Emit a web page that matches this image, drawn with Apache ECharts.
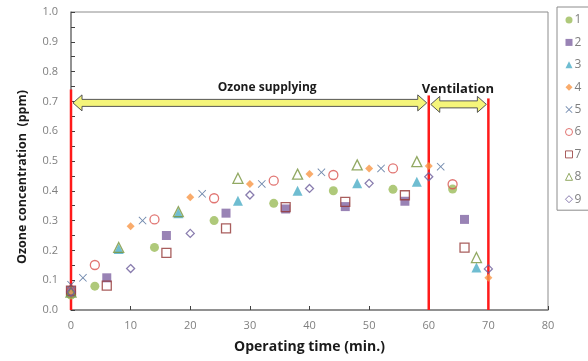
<!DOCTYPE html>
<html>
<head>
<meta charset="utf-8">
<script src="https://cdn.jsdelivr.net/npm/echarts@6/dist/echarts.min.js"></script>
<style>
  html, body { margin: 0; padding: 0; background: #fff; }
  #chart { width: 588px; height: 361px; }
</style>
</head>
<body>
<div id="chart"></div>
<script>
// measured series: [time (min), ozone (ppm)]
const run1 = [[0, 0.05], [4, 0.08], [14, 0.21], [24, 0.30], [34, 0.358], [44, 0.40], [54, 0.405], [64, 0.406]];
const run2 = [[0, 0.065], [6, 0.108], [16, 0.25], [26, 0.325], [36, 0.339], [46, 0.347], [56, 0.365], [66, 0.304]];
const run3 = [[0, 0.06], [8, 0.205], [18, 0.325], [28, 0.367], [38, 0.40], [48, 0.425], [58, 0.43], [68, 0.143]];
const run4 = [[0, 0.06], [10, 0.281], [20, 0.378], [30, 0.423], [40, 0.456], [50, 0.475], [60, 0.483], [70, 0.108]];
const run5 = [[0, 0.085], [2, 0.108], [12, 0.30], [22, 0.39], [32, 0.423], [42, 0.462], [52, 0.475], [62, 0.481]];
const run6 = [[0, 0.06], [4, 0.151], [14, 0.304], [24, 0.375], [34, 0.434], [44, 0.453], [54, 0.475], [64, 0.422]];
const run7 = [[0, 0.065], [6, 0.082], [16, 0.192], [26, 0.274], [36, 0.345], [46, 0.363], [56, 0.385], [66, 0.209]];
const run8 = [[0, 0.06], [8, 0.21], [18, 0.33], [28, 0.442], [38, 0.456], [48, 0.487], [58, 0.498], [68, 0.176]];
const run9 = [[0, 0.06], [10, 0.139], [20, 0.257], [30, 0.386], [40, 0.408], [50, 0.425], [60, 0.447], [70, 0.138]];
const runNames = ['1', '2', '3', '4', '5', '6', '7', '8', '9'];

// phase annotations
const phaseNames = ['Ozone supplying', 'Ventilation'];
const phaseStart = [0, 60];
const phaseEnd = [60, 70];
const phaseArrowY = [0.695, 0.69];
const phaseLabelPos = [[32.9, 0.748], [64.9, 0.742]];
const phaseLineX = [0, 60, 70];
const phaseLineTop = [0.74, 0.72, 0.71];

const xTicks = { min: 0, max: 80, step: 10 };
const yTicks = { min: 0, max: 1, step: 0.1 };

const crossPath = 'path://M0,0.8 L0.8,0 L5,4.2 L9.2,0 L10,0.8 L5.8,5 L10,9.2 L9.2,10 L5,5.8 L0.8,10 L0,9.2 L4.2,5 Z';

const filled = (c) => ({ color: c, borderWidth: 0 });
const open = (c) => ({ color: 'rgba(255,255,255,0)', borderColor: c, borderWidth: 1.3 });

const looks = [
  { symbol: 'circle', size: 9, style: filled('#9bbb59') },
  { symbol: 'rect', size: 9, style: filled('#8064a2') },
  { symbol: 'triangle', size: 10, style: filled('#4bacc6') },
  { symbol: 'diamond', size: 8, style: filled('#f79646') },
  { symbol: crossPath, size: 8, style: filled('#4f6d9a') },
  { symbol: 'circle', size: 9, style: open('#d9534f') },
  { symbol: 'rect', size: 9, style: open('#943634') },
  { symbol: 'triangle', size: 10, style: open('#77933c') },
  { symbol: 'diamond', size: 8, style: open('#6b5b9a') }
];

const runs = [run1, run2, run3, run4, run5, run6, run7, run8, run9];

const scatterSeries = runs.map((d, i) => ({
  name: runNames[i],
  type: 'scatter',
  data: d,
  symbol: looks[i].symbol,
  symbolSize: looks[i].size,
  itemStyle: looks[i].style,
  z: 5
}));

// legend entries: open markers drawn with a thin outline so they stay small
const legendItems = runNames.map((n, i) => {
  const s = looks[i].style;
  return s.borderColor
    ? { name: n, itemStyle: { color: 'rgba(255,255,255,0)', borderColor: s.borderColor, borderWidth: 1 } }
    : { name: n };
});

const lineData = phaseLineX.map((x, i) => [x, phaseLineTop[i]]);
const arrowData = phaseStart.map((s, i) => [s, phaseEnd[i], phaseArrowY[i]]);
const labelData = phaseLabelPos.map((p, i) => [p[0], p[1], phaseNames[i]]);

const chart = echarts.init(document.getElementById('chart'));

chart.setOption({
  animation: false,
  backgroundColor: '#fff',
  grid: { left: 71, top: 12, right: 40, bottom: 51, show: true, borderColor: '#8c8c8c', borderWidth: 1 },
  graphic: [{
    type: 'text',
    x: 22,
    y: 177,
    rotation: Math.PI / 2,
    style: {
      text: 'Ozone concentration  (ppm)',
      align: 'center',
      verticalAlign: 'middle',
      fill: '#1a1a1a',
      font: 'bold 12.5px "Open Sans"'
    }
  }],
  legend: {
    orient: 'vertical',
    left: 557,
    top: 7,
    data: legendItems,
    itemWidth: 7,
    itemHeight: 7,
    itemGap: 8.4,
    padding: [6, 30, 4, 8],
    borderColor: '#8c8c8c',
    borderWidth: 1,
    textStyle: { color: '#7f7f7f', fontSize: 12, lineHeight: 14, fontFamily: 'Open Sans', padding: [0, 0, 0, -3] }
  },
  xAxis: {
    type: 'value',
    min: xTicks.min,
    max: xTicks.max,
    interval: xTicks.step,
    name: 'Operating time (min.)',
    nameLocation: 'middle',
    nameGap: 30,
    nameTextStyle: { color: '#1a1a1a', fontWeight: 'bold', fontSize: 14, fontFamily: 'Open Sans' },
    axisLine: { lineStyle: { color: '#808080', width: 1.5 } },
    axisTick: { inside: true, length: 4, lineStyle: { color: '#404040' } },
    axisLabel: { color: '#7f7f7f', fontSize: 11, margin: 10, fontFamily: 'Open Sans' },
    splitLine: { show: false }
  },
  yAxis: {
    type: 'value',
    min: yTicks.min,
    max: yTicks.max,
    interval: yTicks.step,
    axisLine: { lineStyle: { color: '#808080', width: 1.5 } },
    axisTick: { inside: true, length: 4, lineStyle: { color: '#404040' } },
    minorTick: { show: true, splitNumber: 2, length: 4, lineStyle: { color: '#404040' } },
    axisLabel: { color: '#7f7f7f', fontSize: 11, margin: 13, fontFamily: 'Open Sans', formatter: (v) => v.toFixed(1) },
    splitLine: { show: false }
  },
  series: [
    {
      type: 'custom',
      name: 'phase lines',
      data: lineData,
      z: 2,
      silent: true,
      clip: false,
      renderItem: (params, api) => {
        const a = api.coord([api.value(0), 0]);
        const b = api.coord([api.value(0), api.value(1)]);
        return {
          type: 'line',
          shape: { x1: a[0], y1: a[1], x2: b[0], y2: b[1] },
          style: { stroke: '#ff1a1a', lineWidth: 2.5 }
        };
      }
    },
    {
      type: 'custom',
      name: 'phase arrows',
      data: arrowData,
      z: 3,
      silent: true,
      clip: false,
      renderItem: (params, api) => {
        const a = api.coord([api.value(0), api.value(2)]);
        const b = api.coord([api.value(1), api.value(2)]);
        const x0 = a[0] + 2, x1 = b[0] - 2, y = a[1];
        const hl = 9, bh = 3.5, hh = 8;
        return {
          type: 'polygon',
          shape: {
            points: [
              [x0, y], [x0 + hl, y - hh], [x0 + hl, y - bh], [x1 - hl, y - bh], [x1 - hl, y - hh],
              [x1, y], [x1 - hl, y + hh], [x1 - hl, y + bh], [x0 + hl, y + bh], [x0 + hl, y + hh]
            ]
          },
          style: { fill: '#f5f57a', stroke: '#555', lineWidth: 1 }
        };
      }
    },
    {
      type: 'custom',
      name: 'phase labels',
      data: labelData,
      z: 3,
      silent: true,
      clip: false,
      renderItem: (params, api) => {
        const p = api.coord([api.value(0), api.value(1)]);
        const big = params.dataIndex === 1;
        return {
          type: 'text',
          x: p[0],
          y: p[1],
          style: {
            text: labelData[params.dataIndex][2],
            align: 'center',
            verticalAlign: 'middle',
            fill: '#1a1a1a',
            font: 'bold ' + (big ? 13 : 12) + 'px "Open Sans"'
          }
        };
      }
    }
  ].concat(scatterSeries)
});
</script>
</body>
</html>
